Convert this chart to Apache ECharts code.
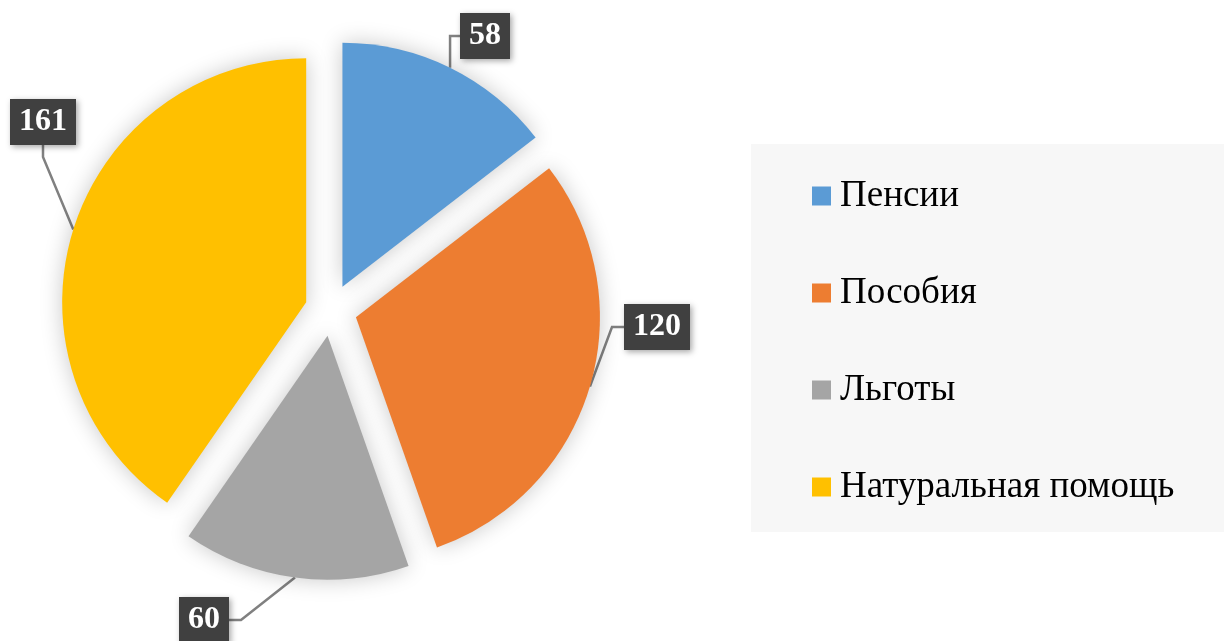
<!DOCTYPE html>
<html>
<head>
<meta charset="utf-8">
<script src="https://cdn.jsdelivr.net/npm/echarts@6/dist/echarts.min.js"></script>
<style>
html,body{margin:0;padding:0;background:#fff;}
#chart{width:1224px;height:641px;}
</style>
</head>
<body>
<div id="chart"></div>
<script>
const categories = ['Пенсии', 'Пособия', 'Льготы', 'Натуральная помощь'];
const values = [58, 120, 60, 161];
const colors = ['#5B9BD5', '#ED7D31', '#A5A5A5', '#FFC000'];
// label box centres (layout only)
const labelPos = [[485, 36], [657, 327], [204, 620], [43, 122]];

const pieCenter = [331, 310];
const pieRadius = 244;
const explode = 26;
const labelFont = 'bold 32px "Liberation Serif"';

const measureCtx = document.createElement('canvas').getContext('2d');
measureCtx.font = labelFont;
function textWidth(s) { return Math.ceil(measureCtx.measureText(s).width) + 2; }

const total = values.reduce((a, b) => a + b, 0);
let cum = 0;
const series = categories.map((name, i) => {
  const mid = (cum + values[i] / 2) / total * 2 * Math.PI;
  cum += values[i];
  const cx = pieCenter[0] + explode * Math.sin(mid);
  const cy = pieCenter[1] - explode * Math.cos(mid);
  return {
    type: 'pie',
    center: [cx, cy],
    radius: [0, pieRadius],
    startAngle: 90,
    clockwise: true,
    silent: true,
    emphasis: { disabled: true },
    label: {
      show: false,
      position: 'outside',
      formatter: '{c}',
      color: '#ffffff',
      fontFamily: 'Liberation Serif',
      fontWeight: 'bold',
      fontSize: 32,
      lineHeight: 32,
      overflow: 'none',
      align: 'center',
      backgroundColor: '#404040',
      padding: [7, 8, 7, 8],
      shadowBlur: 6,
      shadowOffsetX: 2,
      shadowOffsetY: 2,
      shadowColor: 'rgba(0,0,0,0.35)'
    },
    labelLine: {
      show: false,
      length: 12,
      length2: 12,
      lineStyle: { color: '#808080', width: 2.5 }
    },
    labelLayout: function (params) {
      const p = labelPos[params.dataIndex];
      return {
        x: p[0], y: p[1], align: 'center', verticalAlign: 'middle',
        width: textWidth(String(values[params.dataIndex]))
      };
    },
    data: categories.map((n, j) => ({
      name: n,
      value: values[j],
      itemStyle: j === i
        ? { color: colors[j], shadowBlur: 22, shadowColor: 'rgba(0,0,0,0.22)' }
        : { color: 'rgba(0,0,0,0)' },
      label: { show: j === i },
      labelLine: { show: j === i }
    }))
  };
});

const chart = echarts.init(document.getElementById('chart'));
chart.setOption({
  animation: false,
  backgroundColor: '#ffffff',
  graphic: [{
    type: 'rect',
    left: 751, top: 144,
    shape: { width: 480, height: 388 },
    style: { fill: '#f7f7f7' },
    z: -1
  }],
  legend: {
    orient: 'vertical',
    left: 812,
    top: 176,
    padding: 0,
    itemWidth: 19,
    itemHeight: 19,
    itemGap: 57,
    icon: 'rect',
    selectedMode: false,
    textStyle: {
      fontFamily: 'Liberation Serif',
      fontSize: 37,
      lineHeight: 40,
      color: '#000',
      padding: [0, 0, 0, 4]
    },
    data: categories.map((n, i) => ({ name: n, itemStyle: { color: colors[i] } }))
  },
  series: series
});
</script>
</body>
</html>
